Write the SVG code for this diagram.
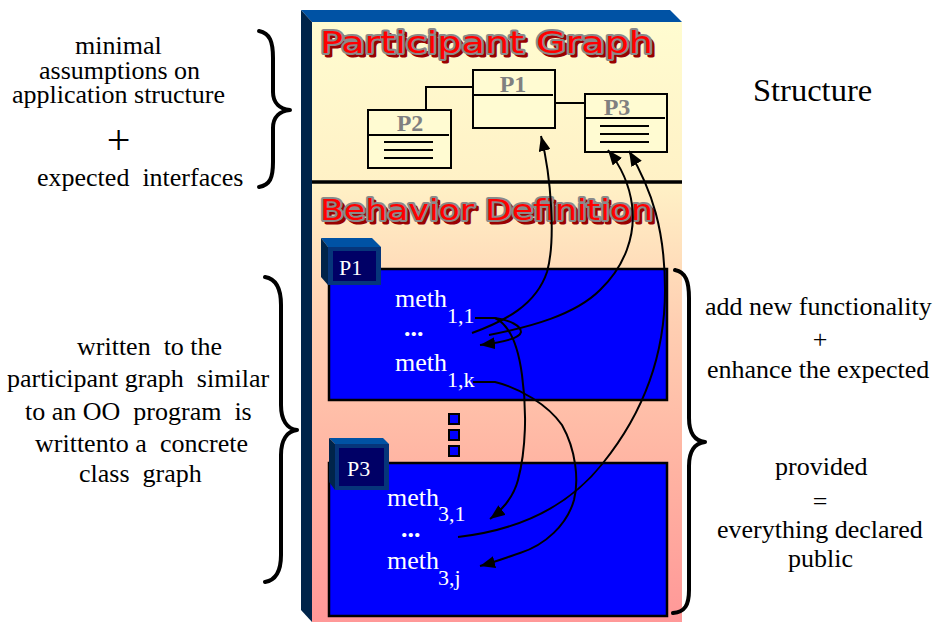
<svg xmlns="http://www.w3.org/2000/svg" width="942" height="633" viewBox="0 0 942 633">
  <defs>
    <linearGradient id="faceFill" gradientUnits="userSpaceOnUse" x1="0" y1="22" x2="0" y2="622">
      <stop offset="0" stop-color="#FFFCD0"/>
      <stop offset="0.27" stop-color="#FFF1C6"/>
      <stop offset="0.5" stop-color="#FFCFB2"/>
      <stop offset="0.75" stop-color="#FFB3A2"/>
      <stop offset="1" stop-color="#FF9898"/>
    </linearGradient>
    <marker id="arrow" markerUnits="userSpaceOnUse" markerWidth="16" markerHeight="12" refX="15" refY="6" orient="auto">
      <path d="M0,0 L15,6 L0,12 z" fill="#000"/>
    </marker>
    <style>
      .note { font-family: "Liberation Serif", "Times New Roman", serif; fill: #000; }
      .title { font-family: "DejaVu Sans", "Liberation Sans", sans-serif; }
      .title-shadow { fill: #9A0000; stroke: #9A0000; stroke-width: 3; stroke-linejoin: round; }
      .title-main { fill: #FF0000; stroke: #8A8A8A; stroke-width: 4; paint-order: stroke; stroke-linejoin: round; }
      .uml { fill: #FFFBD2; stroke: #000; stroke-width: 2; }
      .uml-line { stroke: #000; stroke-width: 2; fill: none; }
      .uml-name { font-family: "Liberation Serif", "Times New Roman", serif; font-weight: bold; font-size: 24px; fill: #808080; text-anchor: middle; }
      .block { fill: #0000FF; stroke: #000; stroke-width: 2.5; }
      .meth { font-family: "Liberation Serif", "Times New Roman", serif; font-size: 26px; fill: #FFF; }
      .sub { font-family: "Liberation Serif", "Times New Roman", serif; font-size: 22px; fill: #FFF; }
      .dots { font-family: "Liberation Serif", "Times New Roman", serif; font-size: 26px; font-weight: bold; fill: #FFF; }
      .tab-label { font-family: "Liberation Serif", "Times New Roman", serif; font-size: 22px; fill: #FFF; }
      .brace { fill: none; stroke: #000; stroke-width: 4; stroke-linecap: round; stroke-linejoin: round; }
      .conn { fill: none; stroke: #000; stroke-width: 2; marker-end: url(#arrow); }
    </style>
  </defs>

  <rect width="942" height="633" fill="#FFFFFF"/>

  <!-- 3D panel -->
  <g id="panel">
    <polygon points="301,10 670,10 682,22 312,22" fill="#0052A4"/>
    <polygon points="301,10 312,22 312,622 301,610" fill="#00244A"/>
    <rect x="312" y="22" width="370" height="600" fill="url(#faceFill)"/>
    <line x1="312" y1="182" x2="682" y2="182" stroke="#000" stroke-width="3.5"/>
  </g>

  <!-- section titles -->
  <g id="title-participant-graph" class="title">
    <text class="title-shadow" x="323" y="56" style="font-size:31px" textLength="333" lengthAdjust="spacingAndGlyphs">Participant Graph</text>
    <text class="title-main" x="320" y="53" style="font-size:31px" textLength="333" lengthAdjust="spacingAndGlyphs">Participant Graph</text>
  </g>
  <g id="title-behavior-definition" class="title">
    <text class="title-shadow" x="323" y="223" style="font-size:29px" textLength="333" lengthAdjust="spacingAndGlyphs">Behavior Definition</text>
    <text class="title-main" x="320" y="220" style="font-size:29px" textLength="333" lengthAdjust="spacingAndGlyphs">Behavior Definition</text>
  </g>

  <!-- participant graph classes -->
  <g id="uml-edges">
    <polyline class="uml-line" points="426,110 426,87 473,87"/>
    <line class="uml-line" x1="555" y1="103" x2="585" y2="103"/>
  </g>
  <g id="uml-p1">
    <rect class="uml" x="473" y="70" width="82" height="58"/>
    <line class="uml-line" x1="473" y1="95" x2="553" y2="95"/>
    <text class="uml-name" x="513" y="92">P1</text>
  </g>
  <g id="uml-p2">
    <rect class="uml" x="368" y="110" width="83" height="58"/>
    <line class="uml-line" x1="368" y1="135" x2="449" y2="135"/>
    <line class="uml-line" x1="384" y1="142" x2="433" y2="142"/>
    <line class="uml-line" x1="384" y1="150" x2="433" y2="150"/>
    <line class="uml-line" x1="384" y1="158" x2="433" y2="158"/>
    <text class="uml-name" x="410" y="131">P2</text>
  </g>
  <g id="uml-p3">
    <rect class="uml" x="585" y="94" width="82" height="58"/>
    <line class="uml-line" x1="585" y1="118" x2="665" y2="118"/>
    <line class="uml-line" x1="600" y1="126" x2="649" y2="126"/>
    <line class="uml-line" x1="600" y1="134" x2="649" y2="134"/>
    <line class="uml-line" x1="600" y1="142" x2="649" y2="142"/>
    <text class="uml-name" x="617" y="115">P3</text>
  </g>

  <!-- behavior of P1 -->
  <g id="behavior-p1">
    <rect class="block" x="329" y="269" width="338" height="131"/>
    <polygon points="321,238 372,238 381,247 328,247" fill="#0052A4"/>
    <polygon points="321,238 328,247 328,285 321,277" fill="#00244A"/>
    <rect x="328" y="247" width="53" height="38" fill="#06357A"/>
    <rect x="333" y="251" width="43" height="30" fill="#000066"/>
    <text class="tab-label" x="339" y="275">P1</text>
    <text class="meth" x="395" y="307">meth</text>
    <text class="sub" x="447" y="323">1,1</text>
    <text class="dots" x="404" y="336">...</text>
    <text class="meth" x="395" y="371">meth</text>
    <text class="sub" x="447" y="387">1,k</text>
  </g>

  <!-- elision marks -->
  <g id="elision">
    <rect x="449" y="414" width="10" height="10" fill="#0000FF" stroke="#000" stroke-width="2"/>
    <rect x="449" y="430" width="10" height="10" fill="#0000FF" stroke="#000" stroke-width="2"/>
    <rect x="449" y="446" width="10" height="10" fill="#0000FF" stroke="#000" stroke-width="2"/>
  </g>

  <!-- behavior of P3 -->
  <g id="behavior-p3">
    <rect class="block" x="329" y="463" width="338" height="153"/>
    <polygon points="329,438 383,438 389,444 335,444" fill="#0052A4"/>
    <polygon points="329,438 335,444 335,490 329,482" fill="#00244A"/>
    <rect x="335" y="444" width="54" height="46" fill="#06357A"/>
    <rect x="339" y="448" width="45" height="38" fill="#000066"/>
    <text class="tab-label" x="347" y="476">P3</text>
    <text class="meth" x="387" y="506">meth</text>
    <text class="sub" x="438" y="521">3,1</text>
    <text class="dots" x="401" y="537">...</text>
    <text class="meth" x="387" y="569">meth</text>
    <text class="sub" x="438" y="585">3,j</text>
  </g>

  <!-- call connectors -->
  <g id="connectors">
    <path class="conn" d="M472,333 C505,321 536,305 547,272 C556,240 551,176 541,136"/>
    <path class="conn" d="M489,335 C530,327 575,315 600,290 C625,266 636,235 632,205 C629,182 620,165 608,150"/>
    <path class="conn" d="M458,537 C520,530 570,505 603,463 C640,417 665,360 665,290 C665,230 652,190 629,151"/>
    <path class="conn" d="M475,318 L495,318 C510,320 521,326 521,332 C520,338 506,342 480,345"/>
    <path class="conn" d="M495,318 C510,325 518,345 522,375 C527,410 526,450 518,480 C514,495 506,507 490,519"/>
    <path class="conn" d="M473,382 L495,382 C520,388 548,405 562,425 C576,450 579,480 574,500 C567,525 545,545 520,553 C505,558 495,562 480,566"/>
  </g>

  <!-- annotations -->
  <g id="note-structure" font-family="Liberation Serif, serif">
    <text class="note" x="753" y="101" style="font-size:32.5px">Structure</text>
  </g>
  <g id="note-assumptions" font-family="Liberation Serif, serif" font-size="26">
    <text class="note" x="75" y="54" style="font-size:26px">minimal</text>
    <text class="note" x="39" y="79" style="font-size:26px">assumptions on</text>
    <text class="note" x="12" y="103" style="font-size:26px">application structure</text>
    <text class="note" x="118.5" y="154" text-anchor="middle" style="font-size:42px">+</text>
    <text class="note" x="37" y="186" xml:space="preserve" style="font-size:26px">expected  interfaces</text>
    <path class="brace" d="M259,31 C270,33 273,42 273,58 L273,92 C273,103 280,109 290,110 C280,111 273,117 273,128 L273,162 C273,178 270,185 259,187"/>
  </g>
  <g id="note-written" font-family="Liberation Serif, serif" font-size="26">
    <text class="note" x="77" y="355" xml:space="preserve" style="font-size:26px">written  to the</text>
    <text class="note" x="7" y="387" xml:space="preserve" style="font-size:26px">participant graph  similar</text>
    <text class="note" x="25" y="420" xml:space="preserve" style="font-size:26px">to an OO  program  is</text>
    <text class="note" x="35" y="452" xml:space="preserve" style="font-size:26px">writtento a  concrete</text>
    <text class="note" x="79" y="482" xml:space="preserve" style="font-size:26px">class  graph</text>
    <path class="brace" d="M265,277 C277,279 281,290 281,305 L281,405 C281,420 287,429 297,430 C287,431 281,440 281,455 L281,555 C281,570 277,580 265,582"/>
  </g>
  <g id="note-provided" font-family="Liberation Serif, serif" font-size="26">
    <text class="note" x="705" y="315" style="font-size:26px">add new functionality</text>
    <text class="note" x="820" y="348" text-anchor="middle" style="font-size:26px">+</text>
    <text class="note" x="707" y="378" style="font-size:26px">enhance the expected</text>
    <text class="note" x="775" y="475" style="font-size:26px">provided</text>
    <text class="note" x="820" y="510" text-anchor="middle" style="font-size:26px">=</text>
    <text class="note" x="717" y="538" style="font-size:26px">everything declared</text>
    <text class="note" x="788" y="567" style="font-size:26px">public</text>
    <path class="brace" d="M675,270 C686,272 689,282 689,298 L689,418 C689,433 695,441 705,442 C695,443 689,451 689,466 L689,590 C689,605 685,612 673,613"/>
  </g>
</svg>
